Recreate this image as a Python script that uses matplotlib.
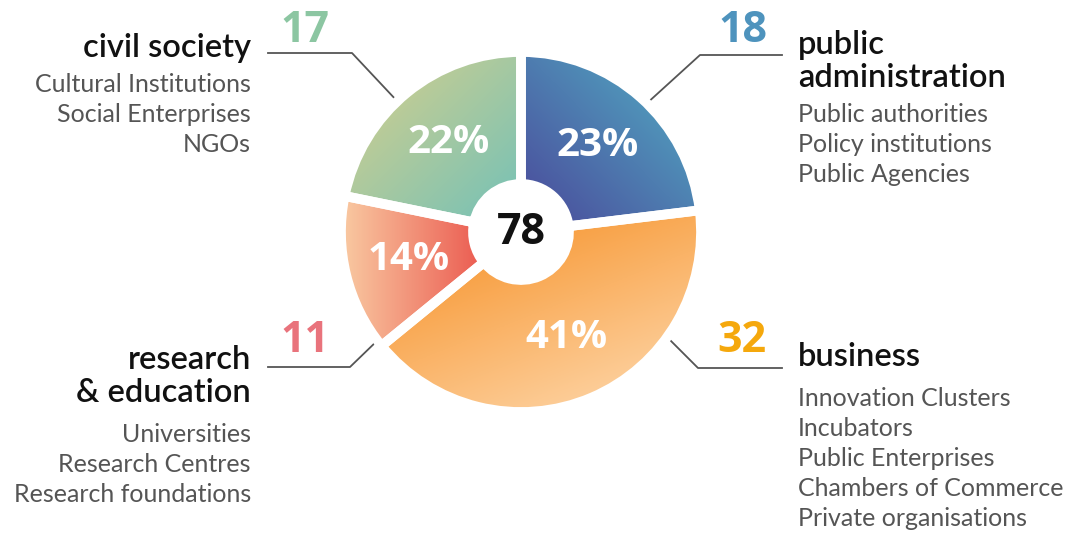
import numpy as np
import matplotlib.pyplot as plt
from matplotlib import font_manager
from matplotlib.colors import LinearSegmentedColormap

# data
groups = ['public\nadministration', 'business', 'research\n& education', 'civil society']
counts = [18, 32, 11, 17]
members = [
    ['Public authorities', 'Policy institutions', 'Public Agencies'],
    ['Innovation Clusters', 'Incubators', 'Public Enterprises',
     'Chambers of Commerce', 'Private organisations'],
    ['Universities', 'Research Centres', 'Research foundations'],
    ['Cultural Institutions', 'Social Enterprises', 'NGOs'],
]
number_colors = ['#4e93bd', '#f5a80c', '#e9737c', '#8cc6a2']
grad_colors = [('#4a479a', '#52b3c6'), ('#f68a1a', '#fedcb4'),
               ('#f9caa2', '#eb5a50'), ('#dbd08a', '#72c1b8')]
grad_dirs = [(1, 1), (0.4, -1), (1, 0), (1, -1)]

names = {f.name for f in font_manager.fontManager.ttflist}
narrow = 'Open Sans' if 'Open Sans' in names else 'DejaVu Sans'
body = 'Lato'

W, H = 1071, 536
fig = plt.figure(figsize=(W / 100, H / 100), dpi=100)
ax = fig.add_axes([0, 0, 1, 1])

cx, cy, R = 521, H - 232, 180
wedges, texts, autotexts = ax.pie(
    counts, center=(cx, cy), radius=R, startangle=90, counterclock=False,
    colors=['none'] * 4,
    autopct=lambda p: '%d%%' % round(p), pctdistance=0.64,
    wedgeprops=dict(width=R - 48, edgecolor='white', linewidth=7),
    textprops=dict(color='white', fontsize=29, family=narrow,
                   fontstretch='condensed', fontweight='bold'))

for w, (c0, c1), (dx, dy) in zip(wedges, grad_colors, grad_dirs):
    w.set_zorder(3)
    ext = w.get_path().get_extents()
    xs = np.linspace(ext.x0, ext.x1, 200)
    ys = np.linspace(ext.y0, ext.y1, 200)
    X, Y = np.meshgrid(xs, ys)
    t = (X - ext.x0) * dx + (Y - ext.y0) * dy
    t = (t - t.min()) / (t.max() - t.min())
    cmap = LinearSegmentedColormap.from_list('g', [c0, c1])
    im = ax.imshow(t, extent=[ext.x0, ext.x1, ext.y0, ext.y1], origin='lower',
                   cmap=cmap, zorder=2, aspect='auto')
    im.set_clip_path(w)
for t in autotexts:
    t.set_zorder(5)

ax.text(cx, cy, str(sum(counts)), ha='center', va='center', fontsize=31,
        fontweight='bold', color='#111111', family=narrow, fontstretch='condensed', zorder=5)

# connectors
lc = '#555555'
ax.plot([645, 700, 782], [H - 105, H - 55, H - 55], color=lc, lw=1.3, zorder=1)
ax.plot([398, 352, 268], [H - 102, H - 53, H - 53], color=lc, lw=1.3, zorder=1)
ax.plot([665, 698, 782], [H - 335, H - 368, H - 368], color=lc, lw=1.3, zorder=1)
ax.plot([380, 350, 268], [H - 338, H - 367, H - 367], color=lc, lw=1.3, zorder=1)

# numbers
num_pos = [(743, 30), (742, 340), (305, 340), (305, 30)]
for n, c, (x, y) in zip(counts, number_colors, num_pos):
    ax.text(x, H - y, str(n), ha='center', va='center', fontsize=31, color=c,
            family=narrow, fontstretch='condensed', fontweight='bold')

# headings and member lists
head_pos = [(798, 45, 'left'), (798, 357, 'left'), (251, 360, 'right'), (251, 48, 'right')]
for g, mem, (x, y, ha) in zip(groups, members, head_pos):
    lines = g.split('\n')
    for i, ln in enumerate(lines):
        ax.text(x, H - (y + 33 * i), ln, ha=ha, va='center', fontsize=23.5,
                color='#111111', family=body, fontweight='semibold')
    y0 = y + 33 * (len(lines) - 1) + 36 + (6 if g == 'business' or '&' in g else 0)
    for j, m in enumerate(mem):
        ax.text(x, H - (y0 + 30 * j), m, ha=ha, va='center', fontsize=18,
                color='#555555', family=body)

ax.set_xlim(0, W)
ax.set_ylim(0, H)
ax.set_aspect('auto')
ax.axis('off')
fig.savefig('out.png', dpi=100, facecolor='white')
